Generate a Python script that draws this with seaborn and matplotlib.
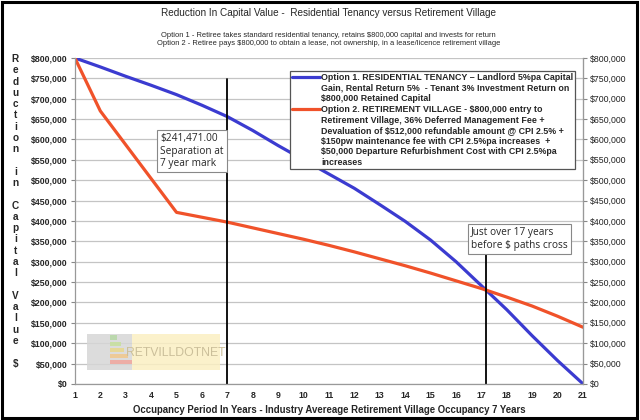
import numpy as np
import pandas as pd
import matplotlib.pyplot as plt
from matplotlib.lines import Line2D
from matplotlib.patches import Rectangle
from matplotlib.ticker import FuncFormatter, MultipleLocator
import seaborn as sns

# values
years = list(range(1, 22))
tenancy = [800000, 778000, 755000, 733000, 710000, 684000, 656000, 622000, 585000, 550000,
           515000, 480000, 440000, 399000, 353000, 300000, 241000, 182000, 118000, 57000, 0]
village = [800000, 670000, 587000, 504000, 421000, 409000, 397000, 383000, 369000, 355000,
           340000, 324000, 307000, 290000, 272000, 253000, 234000, 213000, 191000, 166000, 139000]

separation_year = 7
separation_text = "$241,471.00\nSeparation at\n7 year mark"
cross_year = 17.2
cross_text = "Just over 17 years\nbefore $ paths cross"

option_labels = [
    ["Option 1. RESIDENTIAL TENANCY \u2013 Landlord 5%pa Capital",
     "Gain, Rental Return 5%  - Tenant 3% Investment Return on",
     "$800,000 Retained Capital"],
    ["Option 2. RETIREMENT VILLAGE - $800,000 entry to",
     "Retirement Village, 36% Deferred Management Fee +",
     "Devaluation of $512,000 refundable amount @ CPI 2.5% +",
     "$150pw maintenance fee with CPI 2.5%pa increases  +",
     "$50,000 Departure Refurbishment Cost with CPI 2.5%pa",
     "increases"],
]

title = "Reduction In Capital Value -  Residential Tenancy versus Retirement Village"
subtitle = ("Option 1 - Retiree takes standard residential tenancy, retains $800,000 capital and invests for return\n"
            "Option 2 - Retiree pays $800,000 to obtain a lease, not ownership, in a lease/licence retirement village")
xlabel = "Occupancy Period In Years - Industry Avereage Retirement Village Occupancy 7 Years"
ylabel = "Reduction in Capital Value $"

BLUE = "#3b3bd0"
ORANGE = "#f0522a"

sns.set_style("white")
plt.rcParams['font.family'] = ['Liberation Sans', 'DejaVu Sans']

df = pd.DataFrame({"year": years, "Option 1": tenancy, "Option 2": village})
df = df.melt(id_vars="year", var_name="option", value_name="value")

fig = plt.figure(figsize=(6.4, 4.2), dpi=100)
ax = fig.add_axes([0.117, 0.086, 0.794, 0.776])

ax.yaxis.grid(True, color="#c4c4c4", linewidth=0.9)
ax.set_axisbelow(True)

sns.lineplot(data=df, x="year", y="value", hue="option", palette=[BLUE, ORANGE],
             linewidth=2.3, legend=False, ax=ax)

ax.set_xlim(1, 21)
ax.set_ylim(0, 800000)
ax.xaxis.set_major_locator(MultipleLocator(1))
ax.yaxis.set_major_locator(MultipleLocator(50000))
money = FuncFormatter(lambda v, p: f"${v:,.0f}")
ax.yaxis.set_major_formatter(money)
ax.set_xlabel(xlabel, fontsize=6.9, fontweight="bold", labelpad=4)
ax.set_ylabel("")
ax.tick_params(axis="both", labelsize=6.3, length=3, color="#888888", width=0.8, pad=2)
for lab in ax.get_xticklabels() + ax.get_yticklabels():
    lab.set_fontweight("bold")

ax.spines["top"].set_visible(False)
for s in ["left", "bottom", "right"]:
    ax.spines[s].set_color("#999999")
    ax.spines[s].set_linewidth(0.9)

ax2 = ax.twinx()
ax2.set_ylim(ax.get_ylim())
ax2.yaxis.set_major_locator(MultipleLocator(50000))
ax2.yaxis.set_major_formatter(money)
ax2.tick_params(axis="y", labelsize=6.3, length=3, color="#888888", width=0.8, pad=2,
                labelcolor="#222222")
for s in ["top", "left", "bottom"]:
    ax2.spines[s].set_visible(False)
ax2.spines["right"].set_color("#999999")

# marker lines
ax.axvline(separation_year, ymin=0, ymax=0.935, color="black", linewidth=1.3)
ax.axvline(cross_year, ymin=0, ymax=0.40, color="black", linewidth=1.3)

box = dict(boxstyle="square,pad=0.3", facecolor="white", edgecolor="#888888", linewidth=0.8)
ax.text(4.35, 616000, separation_text, fontsize=7.3, family="Open Sans", va="top", ha="left",
        linespacing=1.2, bbox=box, zorder=5)
ax.text(16.6, 385000, cross_text, fontsize=7.3, family="Open Sans", va="top", ha="left",
        linespacing=1.2, bbox=box, zorder=5)

# watermark
ax.add_patch(Rectangle((1.46, 34000), 1.77, 88000, facecolor="#d6d6d6", edgecolor="none", alpha=0.85, zorder=1))
ax.add_patch(Rectangle((3.23, 34000), 3.47, 88000, facecolor="#fbefc2", edgecolor="none", alpha=0.85, zorder=1))
bar_cols = ["#b8d8a8", "#c8e0a0", "#e8d890", "#f0c890", "#f0a8a0"]
for i, c in enumerate(bar_cols):
    ax.add_patch(Rectangle((2.4, 108000 - i * 15000), 0.25 + i * 0.15, 11000,
                           facecolor=c, edgecolor="none", alpha=0.9, zorder=1))
ax.text(4.98, 77000, "RETVILLDOTNET", fontsize=8.8, color="#cbbf9a", ha="center", va="center",
        family=["Liberation Sans Narrow", "Liberation Sans"], zorder=1)

# legend with handles on the first line of each entry
handles, labels = [], []
for col, lines in zip([BLUE, ORANGE], option_labels):
    for i, line in enumerate(lines):
        if i == 0:
            handles.append(Line2D([], [], color=col, linewidth=2.3))
        else:
            handles.append(Line2D([], [], color="none"))
        labels.append(line)
leg = ax.legend(handles, labels, loc="upper right", bbox_to_anchor=(0.985, 0.96),
                prop={"weight": "bold", "size": 6.4}, frameon=True, fancybox=False,
                edgecolor="#555555", framealpha=1, labelspacing=0.18, handlelength=3.2,
                handletextpad=0.1, borderpad=0.25, borderaxespad=0)
leg.get_frame().set_linewidth(0.9)

# titles and stacked y label
fig.text(0.513, 0.968, title, ha="center", va="center", fontsize=7.2)
fig.text(0.513, 0.906, subtitle, ha="center", va="center", fontsize=5.4, linespacing=1.25)
fig.text(0.024, 0.497, "\n".join(ylabel), ha="center", va="center", fontsize=7.2,
         fontweight="bold", linespacing=1.16)

# outer frame
fig.patches.append(Rectangle((0.003, 0.005), 0.992, 0.99, transform=fig.transFigure,
                             fill=False, edgecolor="black", linewidth=2.2))

fig.savefig("out.png", dpi=100)
